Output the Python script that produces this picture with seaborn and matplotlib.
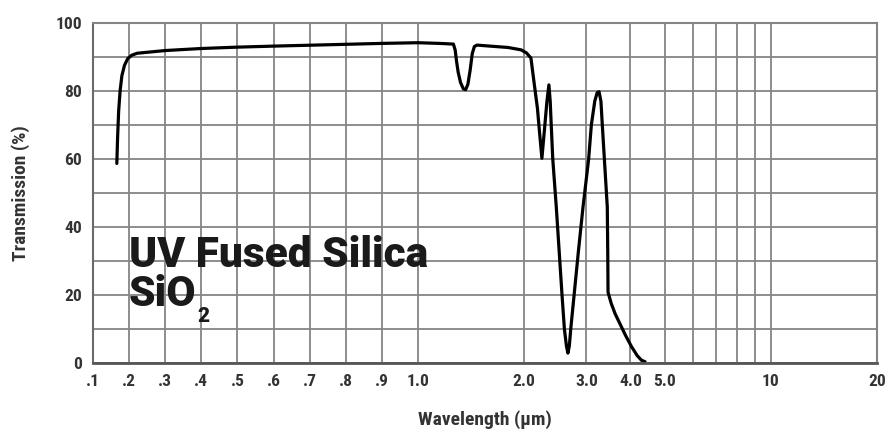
import numpy as np
import pandas as pd
import matplotlib
matplotlib.use('Agg')  # no display
import matplotlib.pyplot as plt
import seaborn as sns
from matplotlib import font_manager

# --- data ---
wavelength_um = [
    0.166, 0.168, 0.171, 0.175, 0.180, 0.187, 0.196, 0.207, 0.222, 0.30,
    0.40, 0.50, 0.60, 0.75, 0.90, 1.00, 1.15, 1.26, 1.275, 1.285,
    1.30, 1.32, 1.345, 1.365, 1.385, 1.405, 1.425, 1.445, 1.47, 1.60,
    1.80, 1.96, 2.03, 2.09, 2.13, 2.18, 2.21, 2.245, 2.28, 2.32,
    2.35, 2.37, 2.386, 2.41, 2.466, 2.56, 2.60, 2.635, 2.66, 2.685,
    2.71, 2.77, 2.85, 2.936, 3.046, 3.10, 3.17, 3.22, 3.26, 3.30,
    3.33, 3.375, 3.44, 3.45, 3.457, 3.53, 3.62, 3.73, 3.88, 4.03,
    4.18, 4.30, 4.40,
]
transmission_pct = [
    58.7, 66.0, 74.0, 80.0, 84.5, 87.5, 89.5, 90.5, 91.1, 91.9,
    92.5, 92.9, 93.2, 93.6, 94.0, 94.2, 94.0, 93.8, 92.0, 89.0,
    85.5, 82.5, 80.6, 80.4, 82.0, 86.0, 91.0, 93.1, 93.5, 93.2,
    92.8, 92.1, 91.2, 89.7, 83.0, 75.0, 68.0, 60.2, 68.0, 77.0,
    81.8, 77.0, 70.0, 60.0, 45.9, 20.0, 10.0, 5.0, 2.9, 5.0,
    10.0, 20.0, 33.0, 45.9, 60.0, 70.0, 77.0, 79.5, 79.8, 77.0,
    70.0, 60.0, 45.9, 33.0, 20.8, 17.5, 14.5, 11.7, 8.0, 4.8,
    2.2, 0.8, 0.4,
]

y_ticks = [0, 20, 40, 60, 80, 100]
y_minor = [10, 30, 50, 70, 90]
x_ticks = [0.1, 0.2, 0.3, 0.4, 0.5, 0.6, 0.7, 0.8, 0.9, 1.0, 2.0, 3.0, 4.0, 5.0, 10, 20]
x_tick_labels = ['.1', '.2', '.3', '.4', '.5', '.6', '.7', '.8', '.9', '1.0',
                 '2.0', '3.0', '4.0', '5.0', '10', '20']
x_minor = [6, 7, 8, 9]

df = pd.DataFrame({'wavelength': wavelength_um, 'transmission': transmission_pct})

# --- fonts ---
sns.set_theme(style='white')
installed = {f.name for f in font_manager.fontManager.ttflist}
narrow = next((f for f in ['Liberation Sans Narrow', 'Roboto Condensed'] if f in installed), None)
if narrow:
    label_font = dict(family=narrow, weight='bold')
else:
    label_font = dict(family='DejaVu Sans', weight='bold', stretch='condensed')
big_family = 'Roboto' if 'Roboto' in installed else 'DejaVu Sans'
plt.rcParams['font.family'] = ['DejaVu Sans']

# --- axis scale: linear below 1 um, log2 above ---
LIN_SLOPE = 3.4


def fwd(x):
    x = np.asarray(x, dtype=float)
    return np.where(x <= 1, (x - 1) * LIN_SLOPE, np.log2(np.maximum(x, 1e-9)))


def inv(y):
    y = np.asarray(y, dtype=float)
    return np.where(y <= 0, 1 + y / LIN_SLOPE, np.exp2(np.minimum(y, 50)))


fig = plt.figure(figsize=(8.91, 4.47), dpi=100)
ax = fig.add_axes([93 / 891, 84 / 447, 784 / 891, 340 / 447])
ax.set_xscale('function', functions=(fwd, inv))

sns.lineplot(data=df, x='wavelength', y='transmission', sort=False, estimator=None,
             color='black', linewidth=2.3, ax=ax)

ax.set_xlim(0.1, 20)
ax.set_ylim(0, 100)
ax.set_xticks(x_ticks)
ax.set_xticklabels(x_tick_labels)
ax.set_xticks(x_minor, minor=True)
ax.set_yticks(y_ticks)
ax.set_yticks(y_minor, minor=True)

grid_col = '#858585'
ax.grid(True, which='both', color=grid_col, linewidth=1.3)
ax.set_axisbelow(True)
for side, sp in ax.spines.items():
    sp.set_color(grid_col)
    sp.set_linewidth(1.5)
ax.spines['bottom'].set_color('#555555')
ax.spines['bottom'].set_linewidth(2)
ax.spines['left'].set_color('#6a6a6a')

ax.tick_params(which='both', length=0)
ax.tick_params(axis='x', pad=8)
ax.tick_params(axis='y', pad=8)
for lab in ax.get_xticklabels() + ax.get_yticklabels():
    lab.set_fontsize(12.5)
    lab.set_color('#333333')
    lab.set(**label_font)

ax.set_xlabel('Wavelength (\u00b5m)', fontsize=14, color='#333333', labelpad=15, **label_font)
ax.set_ylabel('Transmission (%)', fontsize=14, color='#333333', labelpad=18, **label_font)

# --- material label ---
ax.text(0.046, 0.283, 'UV Fused Silica', transform=ax.transAxes, fontsize=30.5,
        family=big_family, weight=900, color='#1a1a1a', va='baseline', ha='left')
sio = ax.text(0.046, 0.168, 'SiO', transform=ax.transAxes, fontsize=30.5,
              family=big_family, weight=900, color='#1a1a1a', va='baseline', ha='left')
ax.annotate('2', xy=(1, 0), xycoords=sio, xytext=(0.5, -8), textcoords='offset points',
            fontsize=15, family=big_family, weight=900, color='#1a1a1a',
            va='bottom', ha='left')

fig.savefig('out.png', dpi=100)
